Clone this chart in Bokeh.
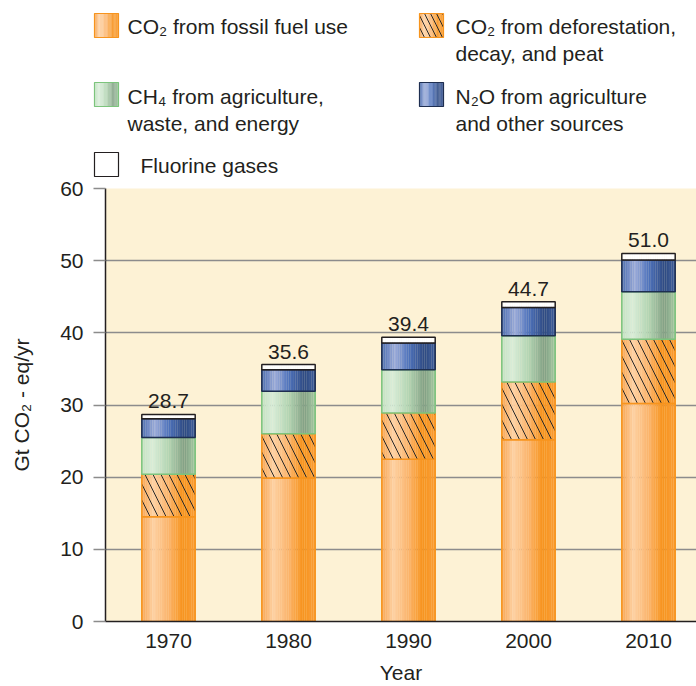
import numpy as np
from bokeh.plotting import figure
from bokeh.models import ColumnDataSource, Range1d, FixedTicker
from bokeh.embed import file_html
from bokeh.resources import INLINE
from bokeh.core.properties import value

# ---------------- data ----------------
years = [1970, 1980, 1990, 2000, 2010]
year_labels = ["1970", "1980", "1990", "2000", "2010"]
co2_fossil = [14.5, 19.9, 22.5, 25.2, 30.2]
co2_forest = [5.9, 6.1, 6.4, 8.0, 8.9]
ch4 = [5.1, 5.9, 6.0, 6.4, 6.6]
n2o = [2.6, 3.0, 3.7, 3.9, 4.4]
fgas = [0.6, 0.7, 0.8, 0.8, 0.9]
totals = [28.7, 35.6, 39.4, 44.7, 51.0]
y_ticks = [0, 10, 20, 30, 40, 50, 60]

legend_labels = [
    "CO\u2082 from fossil fuel use",
    "CO\u2082 from deforestation,\ndecay, and peat",
    "CH\u2084 from agriculture,\nwaste, and energy",
    "N\u2082O from agriculture\nand other sources",
    "Fluorine gases",
]

FONT = "Liberation Sans"
TXT = "#231F20"
FS = "21px"

# ---------------- styles ----------------
fossil_stops = [(0, "#F8A552"), (0.22, "#FDD0A2"), (0.5, "#FBB46C"), (0.76, "#F7941E"), (1, "#F99C34")]
ch4_stops = [(0, "#C3E1C3"), (0.2, "#D8ECD8"), (0.5, "#B3D5B3"), (0.8, "#82A084"), (1, "#A3C9A3")]
n2o_stops = [(0, "#4B6DB1"), (0.25, "#9CACD9"), (0.5, "#4F73BC"), (0.8, "#2E4A82"), (1, "#3E5D9B")]
white_stops = [(0, "#FFFFFF"), (1, "#FFFFFF")]

segments = [
    (co2_fossil, fossil_stops, "#F7941D", False),
    (co2_forest, fossil_stops, "#F7941D", True),
    (ch4, ch4_stops, "#7CC47C", False),
    (n2o, n2o_stops, "#1E2E50", False),
    (fgas, white_stops, "#231F20", False),
]


def hex2rgb(h):
    h = h.lstrip("#")
    return [int(h[i:i + 2], 16) for i in (0, 2, 4)]


def interp(stops, t):
    for (t0, c0), (t1, c1) in zip(stops[:-1], stops[1:]):
        if t0 <= t <= t1:
            f = (t - t0) / (t1 - t0) if t1 > t0 else 0.0
            a, b = hex2rgb(c0), hex2rgb(c1)
            return "#%02x%02x%02x" % tuple(int(round(a[i] + (b[i] - a[i]) * f)) for i in range(3))
    return stops[-1][1]


NSTRIP = 30
BAR_W = 4.45
W = 696
LEG_H = 178
CHART_H = 508

# ---------------- main chart ----------------
p = figure(width=W, height=CHART_H, x_range=Range1d(1964.75, 2014.0), y_range=Range1d(0, 60),
           toolbar_location=None, output_backend="svg",
           min_border_left=105, min_border_right=0, min_border_top=10, min_border_bottom=65)
p.background_fill_color = "#FDF2D5"
p.border_fill_color = "white"
p.outline_line_color = None
p.xgrid.visible = False
p.ygrid.grid_line_color = "#8C8C8C"
p.ygrid.grid_line_width = 1.5
p.ygrid.ticker = FixedTicker(ticks=y_ticks)

bottom = np.zeros(len(years))
for vals, stops, lc, hatch in segments:
    vals = np.array(vals, dtype=float)
    top = bottom + vals
    xs, ws, bs, ts, cs = [], [], [], [], []
    for i, yr in enumerate(years):
        for j in range(NSTRIP):
            t = (j + 0.5) / NSTRIP
            xs.append(yr - BAR_W / 2 + t * BAR_W)
            ws.append(BAR_W / NSTRIP * 1.1)
            bs.append(bottom[i])
            ts.append(top[i])
            cs.append(interp(stops, t))
    src = ColumnDataSource(dict(x=xs, w=ws, b=bs, t=ts, c=cs))
    p.vbar(x="x", width="w", bottom="b", top="t", fill_color="c", line_color=None, source=src)
    if hatch:
        p.vbar(x=years, width=BAR_W, bottom=list(bottom), top=list(top), fill_alpha=0,
               line_color=None, hatch_pattern="\\", hatch_color="#2A2A2A",
               hatch_scale=16, hatch_weight=1.0)
    p.vbar(x=years, width=BAR_W, bottom=list(bottom), top=list(top), fill_color=None,
           line_color=lc, line_width=1.5)
    bottom = top

p.text(x=years, y=list(bottom), text=["%.1f" % v for v in totals], text_align="center",
       text_baseline="bottom", y_offset=-6, text_font=value(FONT), text_font_size=FS,
       text_color=TXT)

# axes
p.yaxis.ticker = FixedTicker(ticks=y_ticks)
p.yaxis.major_tick_out = 12
p.yaxis.major_tick_in = 0
p.yaxis.major_tick_line_color = "#8C8C8C"
p.yaxis.major_tick_line_width = 1.5
p.yaxis.minor_tick_line_color = None
p.yaxis.axis_line_color = TXT
p.yaxis.axis_line_width = 1.5
p.yaxis.major_label_standoff = 10
p.yaxis.axis_label = "Gt CO\u2082 - eq/yr"
p.yaxis.axis_label_standoff = 24

p.xaxis.ticker = FixedTicker(ticks=years)
p.xaxis.major_label_overrides = {y: l for y, l in zip(years, year_labels)}
p.xaxis.major_tick_out = 0
p.xaxis.major_tick_in = 0
p.xaxis.minor_tick_line_color = None
p.xaxis.axis_line_color = TXT
p.xaxis.axis_line_width = 1.5
p.xaxis.major_label_standoff = 12
p.xaxis.axis_label = "Year"
p.xaxis.axis_label_standoff = 10

for ax in (p.xaxis, p.yaxis):
    ax.major_label_text_font = FONT
    ax.major_label_text_font_size = FS
    ax.major_label_text_color = TXT
    ax.axis_label_text_font = FONT
    ax.axis_label_text_font_size = FS
    ax.axis_label_text_font_style = "normal"
    ax.axis_label_text_color = TXT

# ---------------- legend figure ----------------
leg = figure(width=W, height=LEG_H, x_range=Range1d(0, W), y_range=Range1d(LEG_H, 0),
             toolbar_location=None, output_backend="svg", min_border=0,
             x_axis_location=None, y_axis_location=None)
leg.grid.visible = False
leg.outline_line_color = None
leg.background_fill_color = "white"
leg.border_fill_color = "white"

# (swatch left, top, text x, text y of first line) in legend pixels
slots = [(94, 13, 127, 26), (419, 13, 455, 26), (94, 82, 127, 96), (419, 82, 455, 96), (94, 152, 140, 165)]
SW, SH = 24, 24
for (vals, stops, lc, hatch), label, (sx, sy, tx, ty) in zip(segments, legend_labels, slots):
    ls, rs, tops_, bots, cs = [], [], [], [], []
    for j in range(NSTRIP):
        t = (j + 0.5) / NSTRIP
        ls.append(sx + j * SW / NSTRIP)
        rs.append(sx + (j + 1.1) * SW / NSTRIP)
        tops_.append(sy)
        bots.append(sy + SH)
        cs.append(interp(stops, t))
    leg.quad(left=ls, right=rs, top=tops_, bottom=bots, fill_color=cs, line_color=None)
    if hatch:
        leg.quad(left=[sx], right=[sx + SW], top=[sy], bottom=[sy + SH], fill_alpha=0,
                 line_color=None, hatch_pattern="\\", hatch_color="#2A2A2A",
                 hatch_scale=12, hatch_weight=1)
    leg.quad(left=[sx], right=[sx + SW], top=[sy], bottom=[sy + SH], fill_color=None,
             line_color=lc, line_width=1.2)
    lines = label.split("\n")
    leg.text(x=[tx] * len(lines), y=[ty + 27 * k for k in range(len(lines))], text=lines,
             text_align="left", text_baseline="middle", text_font=value(FONT),
             text_font_size=FS, text_color=TXT)

open("out.html", "w").write(file_html([leg, p], INLINE))
